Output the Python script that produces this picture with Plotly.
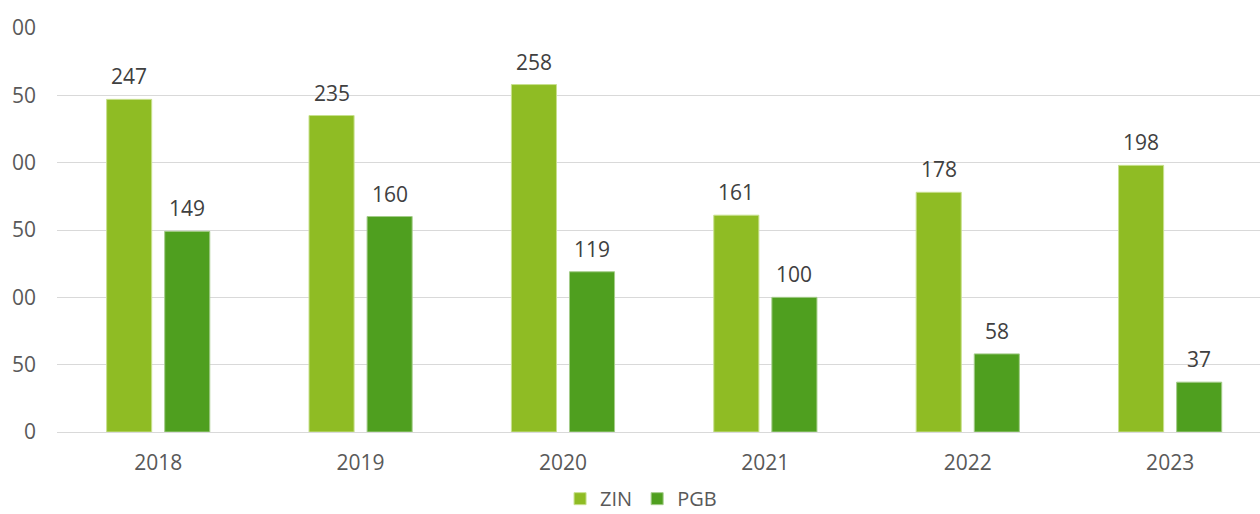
import plotly.graph_objects as go

years = ["2018", "2019", "2020", "2021", "2022", "2023"]
zin = [247, 235, 258, 161, 178, 198]
pgb = [149, 160, 119, 100, 58, 37]
y_tick_vals = [0, 50, 100, 150, 200, 250, 300]
y_tick_labels = ["0", "50", "00", "50", "00", "50", "00"]

ZIN_COLOR = "#8fbc24"
PGB_COLOR = "#4f9f1f"
FONT = "Open Sans"

fig = go.Figure()
fig.add_trace(go.Bar(name="ZIN", x=years, y=zin, marker=dict(color=ZIN_COLOR, line=dict(color="#c8e08e", width=1))))
fig.add_trace(go.Bar(name="PGB", x=years, y=pgb, marker=dict(color=PGB_COLOR, line=dict(color="#a4cc8a", width=1))))

annotations = []
for series, shift in ((zin, -29), (pgb, 29)):
    for i, v in enumerate(series):
        annotations.append(dict(x=i, y=v, xref="x", yref="y", text=str(v), showarrow=False,
                                xshift=shift, yanchor="bottom", yshift=7,
                                font=dict(family=FONT, size=21, color="#404040")))

fig.update_layout(
    width=1260, height=514,
    margin=dict(l=57, r=0, t=28, b=82, autoexpand=False),
    paper_bgcolor="white", plot_bgcolor="white",
    barmode="group", bargap=0.426, bargroupgap=0.224,
    font=dict(family=FONT, size=21, color="#595959"),
    annotations=annotations,
    showlegend=True,
    legend=dict(orientation="h", x=0.4855, xanchor="center", y=-0.165, yanchor="middle",
                itemwidth=30, tracegroupgap=0,
                font=dict(family=FONT, size=20, color="#595959")),
)
fig.update_xaxes(type="category", range=[-0.5, 5.444], showgrid=False, showline=True,
                 linecolor="#d9d9d9", linewidth=1, ticks="", ticklabelstandoff=12,
                 tickfont=dict(family=FONT, size=21, color="#595959"))
fig.update_yaxes(range=[0, 300], tickvals=y_tick_vals, ticktext=y_tick_labels,
                 showgrid=True, gridcolor="#d9d9d9", gridwidth=1, zeroline=False,
                 ticks="", ticklabelstandoff=20, automargin=False,
                 tickfont=dict(family=FONT, size=21, color="#595959"))

fig.write_html("out.html", config={"displayModeBar": False},
               post_script="document.body.style.margin='0';document.body.style.overflow='hidden';")
